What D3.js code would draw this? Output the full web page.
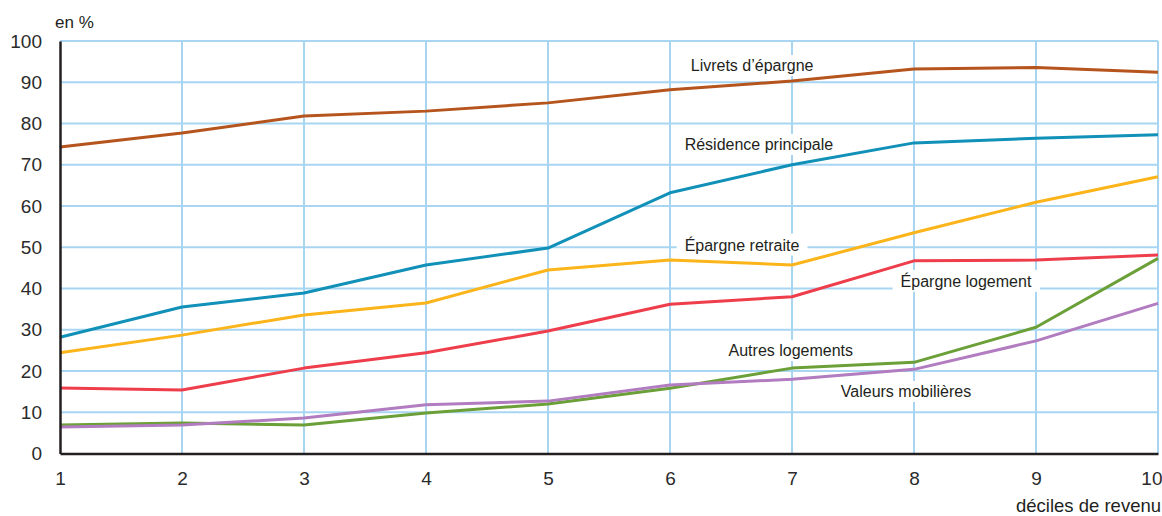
<!DOCTYPE html>
<html><head><meta charset="utf-8">
<script src="https://cdn.jsdelivr.net/npm/d3@7/dist/d3.min.js"></script>
<style>body{margin:0;background:#fff}svg{display:block;font-family:"Liberation Sans",Arial,sans-serif}</style>
</head><body><svg id="c" width="1162" height="516"></svg>
<script>
const deciles = [1,2,3,4,5,6,7,8,9,10];
const yTicks = [0,10,20,30,40,50,60,70,80,90,100];
const seriesNames = ["Livrets d’épargne","Résidence principale","Épargne retraite","Épargne logement","Autres logements","Valeurs mobilières"];
const livrets   = [74.3,77.7,81.8,83.0,85.0,88.2,90.3,93.2,93.6,92.4];
const residence = [28.2,35.5,38.9,45.7,49.8,63.2,70.0,75.3,76.4,77.3];
const retraite  = [24.4,28.7,33.6,36.5,44.5,46.9,45.7,53.5,60.9,67.1];
const logement  = [15.9,15.4,20.7,24.4,29.7,36.2,38.0,46.7,46.9,48.1];
const autres    = [6.9,7.4,6.9,9.8,12.0,15.8,20.7,22.1,30.6,47.3];
const valeurs   = [6.4,6.9,8.6,11.8,12.7,16.6,18.0,20.4,27.3,36.4];
const colors = ["#b5541c","#1190b8","#fbb41a","#ee3d4b","#6b9f37","#b27cc0"];
const labelPos = [[6.17,92.7],[6.12,73.6],[6.12,49.2],[7.89,40.4],[6.48,23.6],[7.40,13.7]];

const svg = d3.select("#c");
const x = d3.scaleLinear().domain([1,10]).range([60,1158]);
const y = d3.scaleLinear().domain([0,100]).range([453.5,41]);
const grid = "#a8d5f2";

svg.append("g").selectAll("line").data(yTicks.filter(d=>d>0)).join("line")
  .attr("x1",x(1)).attr("x2",x(10)).attr("y1",d=>y(d)).attr("y2",d=>y(d))
  .attr("stroke",grid).attr("stroke-width",2);
svg.append("g").selectAll("line").data(deciles.filter(d=>d>1)).join("line")
  .attr("x1",d=>x(d)).attr("x2",d=>x(d)).attr("y1",y(0)).attr("y2",y(100))
  .attr("stroke",grid).attr("stroke-width",2);

// label backgrounds
const lbl = svg.append("g");
const texts = lbl.selectAll("text").data(seriesNames).join("text")
  .attr("x",(d,i)=>x(labelPos[i][0])).attr("y",(d,i)=>y(labelPos[i][1]))
  .attr("font-size",16).attr("fill","#231f20").text(d=>d);
texts.each(function(){
  const b=this.getBBox();
  lbl.insert("rect","text").attr("x",b.x-8).attr("y",b.y-2).attr("width",b.width+16).attr("height",b.height+4).attr("fill","#fff");
});

const all = [livrets,residence,retraite,logement,autres,valeurs];
const line = d3.line().x((d,i)=>x(deciles[i])).y(d=>y(d));
svg.append("g").selectAll("path").data(all).join("path")
  .attr("d",line).attr("fill","none").attr("stroke",(d,i)=>colors[i])
  .attr("stroke-width",3).attr("stroke-linejoin","round");

// axes
const yAxis = d3.axisLeft(y).tickValues(yTicks).tickSize(0).tickPadding(18);
const gy = svg.append("g").attr("transform",`translate(${x(1)},0)`).call(yAxis);
gy.select(".domain").attr("stroke","#231f20").attr("stroke-width",2.5);
gy.selectAll("text").attr("font-size",19).attr("fill","#2b2b2b").attr("font-family","Liberation Sans, Arial, sans-serif");
const xAxis = d3.axisBottom(x).tickValues(deciles).tickFormat(d3.format("d")).tickSize(0).tickPadding(18);
const gx = svg.append("g").attr("transform",`translate(0,${y(0)})`).call(xAxis);
gx.select(".domain").attr("stroke","#231f20").attr("stroke-width",2.5);
gx.selectAll("text").attr("font-size",19).attr("fill","#2b2b2b").attr("font-family","Liberation Sans, Arial, sans-serif");
gx.selectAll("text").filter(d=>d===10).attr("text-anchor","end").attr("dx",4);

svg.append("text").attr("x",55).attr("y",28).attr("font-size",17).attr("fill","#231f20").text("en %");
svg.append("text").attr("x",1161).attr("y",512).attr("text-anchor","end").attr("font-size",18.5).attr("fill","#231f20").text("déciles de revenu");
</script></body></html>
